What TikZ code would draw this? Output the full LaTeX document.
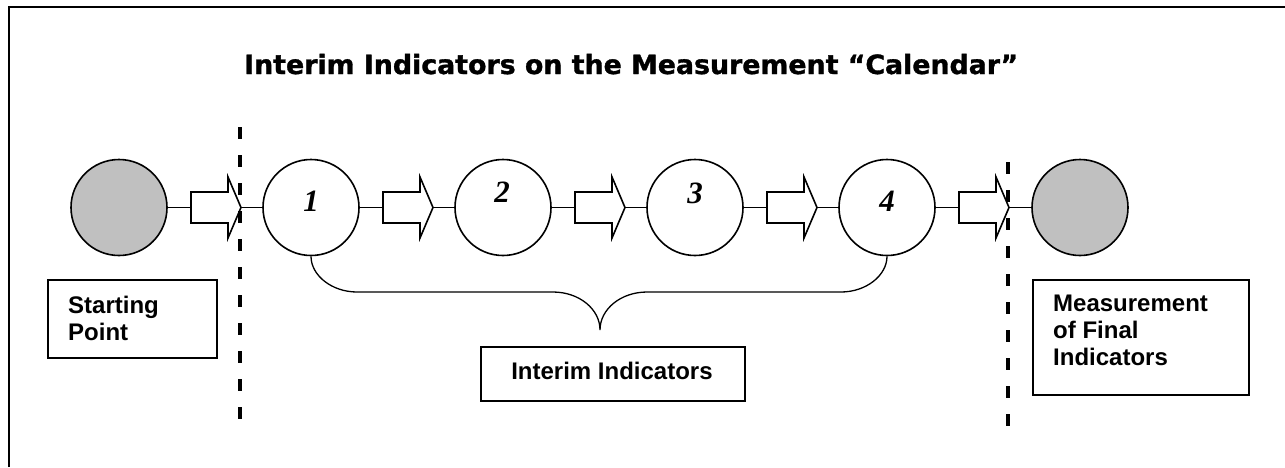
\documentclass[tikz,border=0pt]{standalone}
\usepackage{graphicx}
\usepackage{fontspec}
\setmainfont{Liberation Sans}
\newfontfamily\titlefont[FakeBold=1.2]{DejaVu Sans Bold}
\newfontfamily\numfont{Liberation Serif}
\definecolor{circgrey}{RGB}{192,192,192}
\begin{document}
\begin{tikzpicture}[x=1pt,y=-1pt,
  frame/.style={line width=2.4pt},
  greycirc/.style={circle, draw, line width=1.6pt, fill=circgrey, minimum size=96pt, inner sep=0pt},
  whitecirc/.style={circle, draw, line width=1.6pt, fill=white, minimum size=96pt, inner sep=0pt},
  conn/.style={line width=1.2pt},
  divider/.style={line width=3.6pt, dash pattern=on 12pt off 16pt},
  labelbox/.style={draw, line width=2pt, inner sep=0pt},
  boxtext/.style={font=\bfseries\fontsize{24}{27}\selectfont, inner sep=0pt, align=left},
  numtext/.style={font=\numfont\bfseries\itshape\fontsize{31}{31}\selectfont, inner sep=0pt},
  bracestyle/.style={line width=1.3pt},
  arrowbody/.style={draw, line width=1.6pt, fill=white},
  blockarrow/.pic={
    \path[arrowbody] (0,-15.5) -- (37,-15.5) -- (37,-30.5) -- (50,0) -- (37,30.5) -- (37,15.5) -- (0,15.5) -- cycle;
    \coordinate (-tail) at (0,0);
    \coordinate (-tip) at (50,0);
  }
]
\useasboundingbox (0,0) rectangle (1285,467);
% frame
\draw[frame] (9,467) -- (9,6.7) -- (1285,6.7);
% title
\node[anchor=base west, inner sep=0pt] (title) at (244,74)
  {\resizebox{774pt}{\height}{\titlefont\fontsize{26.5}{30}\selectfont Interim Indicators on the Measurement “Calendar”}};
% circles
\node[greycirc] (s) at (119,207.5) {};
\node[whitecirc] (c1) at (311,207.5) {};
\node[whitecirc] (c2) at (503,207.5) {};
\node[whitecirc] (c3) at (695,207.5) {};
\node[whitecirc] (c4) at (887,207.5) {};
\node[greycirc] (f) at (1080,207.5) {};
\node[numtext] (n1) at ([yshift=6.5pt]c1.center) {1};
\node[numtext] (n2) at ([xshift=-1pt,yshift=15pt]c2.center) {2};
\node[numtext] (n3) at ([yshift=14.5pt]c3.center) {3};
\node[numtext] (n4) at ([yshift=6.5pt]c4.center) {4};
% block arrows
\pic (a0) at (191,207.5) {blockarrow};
\pic (a1) at (383,207.5) {blockarrow};
\pic (a2) at (575,207.5) {blockarrow};
\pic (a3) at (767,207.5) {blockarrow};
\pic (a4) at (959,207.5) {blockarrow};
% connectors
\draw[conn] (s) -- (a0-tail);
\draw[conn] (a0-tip) -- (c1);
\draw[conn] (c1) -- (a1-tail);
\draw[conn] (a1-tip) -- (c2);
\draw[conn] (c2) -- (a2-tail);
\draw[conn] (a2-tip) -- (c3);
\draw[conn] (c3) -- (a3-tail);
\draw[conn] (a3-tip) -- (c4);
\draw[conn] (c4) -- (a4-tail);
\draw[conn] (a4-tip) -- (f);
% dividers
\coordinate (d1top) at (240,127);
\coordinate (d1bot) at (240,422);
\coordinate (d2top) at (1008,162);
\coordinate (d2bot) at (1008,432);
\draw[divider] (d1top) -- (d1bot);
\draw[divider] (d2top) -- (d2bot);
% brace
\coordinate (bl) at (357,292);
\coordinate (bml) at (553,292);
\coordinate (btip) at (600,330);
\coordinate (bmr) at (647,292);
\coordinate (br) at (841,292);
\draw[bracestyle] (c1.south) .. controls (311,275.5) and (332,292) .. (bl) -- (bml)
  .. controls (579,292) and (600,309) .. (btip)
  .. controls (600,309) and (621,292) .. (bmr) -- (br)
  .. controls (866,292) and (887,275.5) .. (c4.south);
% label boxes
\node[labelbox, anchor=north west, minimum width=169pt, minimum height=78pt] (spbox) at (47,279) {};
\node[boxtext, anchor=north west] (sptext) at (68,295.5) {Starting\\Point};
\node[labelbox, anchor=north west, minimum width=264pt, minimum height=54pt] (iibox) at (480,346) {};
\node[boxtext, anchor=base] (iitext) at (612,379) {Interim Indicators};
\node[labelbox, anchor=north west, minimum width=216pt, minimum height=115pt] (mfbox) at (1032,279) {};
\node[boxtext, anchor=north west] (mftext) at (1053,294.5) {Measurement\\of Final\\Indicators};
\end{tikzpicture}
\end{document}
